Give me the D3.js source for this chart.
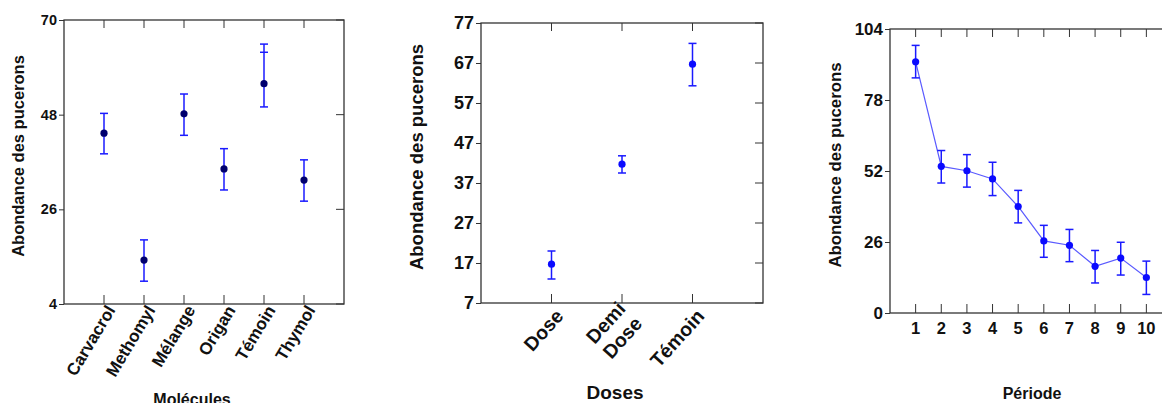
<!DOCTYPE html>
<html>
<head>
<meta charset="utf-8">
<script src="https://cdn.jsdelivr.net/npm/d3@7"></script>
<style>
  body { margin: 0; background: #fff; }
  svg text { font-family: "Liberation Sans", Arial, sans-serif; font-weight: bold; fill: #111; }
</style>
</head>
<body>
<svg id="chart" width="1162" height="403"></svg>
<script>
// panel 1 - molecules
var molecules = ["Carvacrol", "Methomyl", "Mélange", "Origan", "Témoin", "Thymol"];
var molMean = [43.7, 14.2, 48.2, 35.4, 55.2, 32.8];
var molLow  = [38.9, 9.3, 43.2, 30.5, 49.8, 27.9];
var molHigh = [48.3, 18.9, 52.8, 40.1, 62.5, 37.5];
var molHigh2 = [null, null, null, null, 64.4, null];   // second cap seen on Témoin
var molTicks = [4, 26, 48, 70];

// panel 2 - doses
var doses = [["Dose"], ["Demi", "Dose"], ["Témoin"]];
var doseMean = [16.7, 41.7, 66.7];
var doseLow  = [13.0, 39.5, 61.3];
var doseHigh = [20.0, 43.8, 71.9];
var doseTicks = [7, 17, 27, 37, 47, 57, 67, 77];

// panel 3 - periods
var periods = [1, 2, 3, 4, 5, 6, 7, 8, 9, 10];
var perMean = [92.0, 53.7, 52.1, 49.1, 39.0, 26.4, 24.8, 17.1, 20.1, 13.0];
var perLow  = [86.1, 47.6, 46.1, 43.0, 33.0, 20.4, 18.8, 11.0, 13.9, 6.8];
var perHigh = [98.0, 59.5, 58.0, 55.2, 44.9, 32.1, 30.6, 22.9, 25.9, 19.0];
var perTicks = [0, 26, 52, 78, 104];

var svg = d3.select("#chart");
var ylabel = "Abondance des pucerons";

function drawPanel(o) {
  var g = svg.append("g");
  var x = d3.scaleLinear().domain([0, o.n + 1]).range([o.left, o.right]);
  var y = d3.scaleLinear().domain([o.ticks[0], o.ticks[o.ticks.length - 1]]).range([o.bottom, o.top]);

  // frame
  g.append("rect")
    .attr("x", o.left).attr("y", o.top)
    .attr("width", o.right - o.left).attr("height", o.bottom - o.top)
    .attr("fill", "none").attr("stroke", "#333").attr("stroke-width", 1.3);

  var idx = d3.range(1, o.n + 1);

  // left axis, ticks outside
  var ax = g.append("g").attr("transform", `translate(${o.left},0)`)
    .call(d3.axisLeft(y).tickValues(o.ticks).tickSize(5).tickPadding(2));
  ax.select(".domain").remove();
  ax.selectAll("text").style("font-size", o.tickFont + "px");
  ax.selectAll("line").attr("stroke", "#333");

  // right ticks inside
  g.append("g").selectAll("line").data(o.ticks).join("line")
    .attr("x1", o.right - 8).attr("x2", o.right)
    .attr("y1", d => y(d)).attr("y2", d => y(d))
    .attr("stroke", "#333");

  // top and bottom ticks inside
  g.append("g").selectAll("line").data(idx).join("line")
    .attr("x1", d => x(d)).attr("x2", d => x(d))
    .attr("y1", o.top).attr("y2", o.top + 8)
    .attr("stroke", "#333");
  g.append("g").selectAll("line").data(idx).join("line")
    .attr("x1", d => x(d)).attr("x2", d => x(d))
    .attr("y1", o.bottom).attr("y2", o.bottom - 9)
    .attr("stroke", "#333");

  // connecting line
  if (o.line) {
    g.append("path")
      .datum(idx)
      .attr("fill", "none").attr("stroke", "#5a5aff").attr("stroke-width", 1.2)
      .attr("d", d3.line().x(d => x(d)).y((d, i) => y(o.mean[i])));
  }

  // error bars
  var eb = g.append("g").attr("stroke", "#1a1aff").attr("stroke-width", 1.5);
  eb.selectAll(".v").data(idx).join("line")
    .attr("x1", d => x(d)).attr("x2", d => x(d))
    .attr("y1", (d, i) => y(o.low[i]))
    .attr("y2", (d, i) => y(o.high2 && o.high2[i] != null ? o.high2[i] : o.high[i]));
  var caps = [];
  idx.forEach(function(d, i) {
    caps.push([d, o.low[i]], [d, o.high[i]]);
    if (o.high2 && o.high2[i] != null) caps.push([d, o.high2[i]]);
  });
  eb.selectAll(".c").data(caps).join("line")
    .attr("x1", d => x(d[0]) - 4).attr("x2", d => x(d[0]) + 4)
    .attr("y1", d => y(d[1])).attr("y2", d => y(d[1]));

  // points
  g.append("g").selectAll("circle").data(idx).join("circle")
    .attr("cx", d => x(d)).attr("cy", (d, i) => y(o.mean[i]))
    .attr("r", 3.6).attr("fill", o.dotColor);

  // category labels
  if (o.rotate) {
    var lab = g.append("g").selectAll("text").data(idx).join("text")
      .attr("transform", d => `translate(${x(d) + o.labDx},${o.bottom + o.labDy}) rotate(${o.rotate})`)
      .attr("text-anchor", "end")
      .style("font-size", o.labFont + "px");
    lab.each(function(d, i) {
      var lines = [].concat(o.cats[i]);
      var t = d3.select(this);
      lines.forEach(function(s, k) {
        t.append("tspan").attr("x", 0)
          .attr("y", (k - (lines.length - 1) / 2) * o.labFont * 1.15)
          .text(s);
      });
    });
  } else {
    g.append("g").selectAll("text").data(idx).join("text")
      .attr("x", d => x(d)).attr("y", o.bottom + 21)
      .attr("text-anchor", "middle")
      .style("font-size", o.labFont + "px")
      .text((d, i) => o.cats[i]);
  }

  // axis titles
  g.append("text")
    .attr("transform", `translate(${o.ylabX},${o.ylabY}) rotate(-90)`)
    .attr("text-anchor", "middle")
    .style("font-size", o.ylabFont + "px")
    .text(ylabel);
  g.append("text")
    .attr("x", o.xlabX).attr("y", o.xlabY)
    .attr("text-anchor", "middle")
    .style("font-size", o.titleFont + "px")
    .text(o.xtitle);
}

drawPanel({
  n: molecules.length, cats: molecules, mean: molMean, low: molLow, high: molHigh, high2: molHigh2,
  ticks: molTicks, left: 64, right: 344, top: 20, bottom: 304,
  dotColor: "#00006e", tickFont: 14.5, labFont: 17, titleFont: 16, ylabFont: 16.5,
  rotate: -59, labDx: 12, labDy: 6,
  ylabX: 24, ylabY: 156, xtitle: "Molécules", xlabX: 192, xlabY: 405
});

drawPanel({
  n: doses.length, cats: doses, mean: doseMean, low: doseLow, high: doseHigh,
  ticks: doseTicks, left: 481, right: 763, top: 23, bottom: 303,
  dotColor: "#0a0aff", tickFont: 18, labFont: 19.5, titleFont: 19, ylabFont: 18.5,
  rotate: -48, labDx: 13, labDy: 14,
  ylabX: 423, ylabY: 157, xtitle: "Doses", xlabX: 615, xlabY: 399
});

drawPanel({
  n: periods.length, cats: periods, mean: perMean, low: perLow, high: perHigh, line: true,
  ticks: perTicks, left: 890, right: 1172, top: 29, bottom: 313,
  dotColor: "#0a0aff", tickFont: 17, labFont: 16.5, titleFont: 16, ylabFont: 16.8,
  ylabX: 841, ylabY: 165, xtitle: "Période", xlabX: 1032, xlabY: 399
});
</script>
</body>
</html>
